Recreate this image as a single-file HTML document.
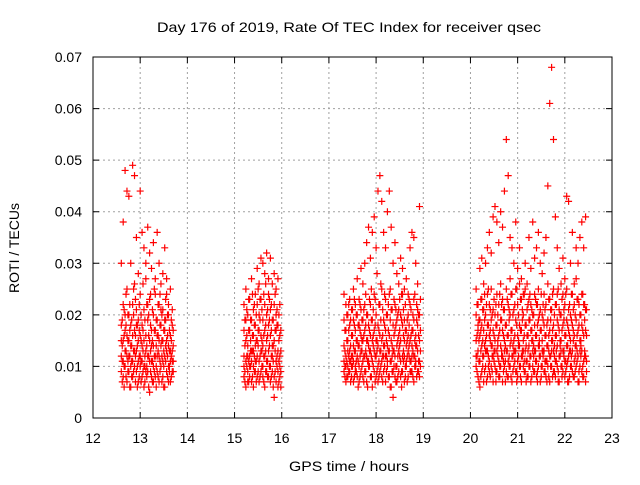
<!DOCTYPE html>
<html><head><meta charset="utf-8"><style>
body{margin:0;background:#fff}
svg text{font-family:"Liberation Sans",sans-serif;font-size:14px;fill:#000}
</style></head><body>
<svg id="chart" width="640" height="480" viewBox="0 0 640 480" xmlns="http://www.w3.org/2000/svg">
<rect width="640" height="480" fill="#fff"/>
<g id="grid"></g>
<g id="axes"></g>
<g id="marks"></g>
<rect x="93" y="57" width="519" height="361" fill="none" stroke="#000" stroke-width="1"/>
<text x="157" y="32" textLength="384" lengthAdjust="spacingAndGlyphs">Day 176 of 2019, Rate Of TEC Index for receiver qsec</text>
<text x="289" y="471" textLength="120" lengthAdjust="spacingAndGlyphs">GPS time / hours</text>
<text transform="translate(19,248) rotate(-90)" text-anchor="middle">ROTI / TECUs</text>
</svg>
<script>
// x ticks (hours), y ticks (TECU)
const xTicks = [12,13,14,15,16,17,18,19,20,21,22,23];
const yTicks = [0,0.01,0.02,0.03,0.04,0.05,0.06,0.07];
const yTickLabels = ["0","0.01","0.02","0.03","0.04","0.05","0.06","0.07"];
// Pass start times (hours), sampling step, and ROTI values per epoch in 1e-3 TECU
const passStarts = [12.60, 15.20, 17.32, 20.12];
const passStep = 0.04;
const pass1Roti = [[12,18,9,30,15],[15,8,22,38,11],[10,20,13,48,17],[7,16,25,44,12],[12,9,20,43,15],[14,6,18,30,10],[11,22,8,49,16],[17,10,26,47,13],[9,13,21,35,18],[15,7,19,28,11],[12,24,10,44,16],[18,8,14,36,11],[10,21,6,33,15],[13,16,27,30,9],[9,19,12,37,22],[15,5,23,32,11],[11,17,8,29,14],[14,20,10,34,7],[8,12,24,27,17],[16,9,19,36,12],[12,22,7,30,15],[10,18,14,26,21],[15,8,21,28,11],[12,17,6,33,19],[9,13,24,27,15],[14,10,20,22,7],[11,16,7,25,13],[13,9,18,21,11]];
const pass2Roti = [[8,12,17,22,10],[11,6,15,19,25],[9,14,20,7,12],[12,17,8,23,10],[7,13,19,11,27],[10,16,6,21,13],[14,9,18,24,11],[8,12,22,15,29],[11,17,7,20,26],[13,9,16,23,31],[10,14,19,8,30],[12,6,17,22,28],[9,15,20,11,32],[13,8,18,24,27],[10,16,7,21,31],[12,9,19,14,26],[8,15,4,22,28],[11,17,7,20,25],[9,13,6,18,27],[12,8,16,10,22]];
const pass3Roti = [[9,14,19,11,24],[12,7,17,22,10],[10,15,8,20,13],[13,9,18,11,23],[8,12,16,21,10],[11,14,7,19,25],[9,13,17,10,22],[12,8,15,20,27],[10,14,18,7,23],[13,9,16,21,29],[11,15,8,19,26],[9,12,17,22,30],[12,7,15,20,34],[10,14,18,11,37],[13,8,16,22,31],[11,15,6,19,36],[9,13,17,24,39],[12,8,20,15,33],[10,14,18,7,44],[13,9,22,16,47],[11,15,8,25,42],[9,12,19,14,36],[12,7,17,23,33],[10,14,20,11,40],[13,8,16,24,44],[11,15,6,21,37],[9,13,4,18,30],[12,8,17,22,34],[10,14,19,7,28],[13,9,16,21,26],[11,15,8,20,31],[9,12,18,24,29],[12,7,15,19,25],[10,14,17,11,27],[13,8,20,16,24],[11,15,9,22,33],[9,12,17,14,36],[12,7,19,23,35],[10,14,16,11,30],[13,9,18,21,26],[11,15,8,20,41]];
const pass4Roti = [[10,15,20,12,25],[13,8,17,22,18],[11,16,6,19,29],[14,9,18,23,31],[12,17,7,21,26],[10,15,20,13,30],[13,8,18,24,33],[11,16,9,22,36],[14,10,19,25,32],[12,7,17,21,39],[10,15,20,13,41],[13,9,18,24,38],[11,16,8,22,34],[14,10,19,26,40],[12,7,17,23,37],[10,15,21,13,44],[13,9,18,25,54],[11,16,8,22,47],[14,10,20,27,35],[12,7,17,24,33],[10,15,21,13,30],[13,9,19,25,38],[11,16,8,22,29],[14,10,18,26,33],[12,7,17,23,27],[10,15,20,13,24],[13,9,18,25,30],[11,16,8,21,26],[14,10,19,23,35],[12,7,17,22,29],[10,15,20,13,38],[13,9,18,24,31],[11,16,8,22,33],[14,10,19,25,36],[12,7,17,21,30],[10,15,20,13,28],[13,9,18,24,32],[11,16,8,22,35],[14,10,19,26,45],[12,7,17,23,61],[10,15,21,13,68],[13,9,18,25,54],[11,16,8,22,39],[14,10,19,24,33],[12,7,17,21,29],[10,15,20,13,26],[13,9,18,24,31],[11,16,8,22,27],[14,10,19,25,43],[12,7,17,21,42],[10,15,20,13,30],[13,9,18,24,36],[11,16,8,22,26],[14,10,19,27,33],[12,7,17,23,30],[10,15,20,13,35],[13,9,18,24,38],[11,16,8,22,33],[12,7,17,21,39]];
// Interleaved epochs (offset by half a step), ROTI in 1e-3 TECU
const pass1RotiB = [[7,14,19,11],[10,16,6,21],[13,8,18,24],[9,15,11,20],[6,12,17,22],[11,19,8,14],[9,13,20,25],[12,7,16,23],[14,10,18,6],[8,12,22,17],[11,15,7,20],[13,9,17,26],[7,12,19,10],[10,14,22,8],[12,6,16,20],[9,13,18,24],[7,11,15,21],[12,9,17,25],[10,14,6,19],[13,8,16,22],[9,11,18,24],[12,7,15,20],[6,10,13,17],[11,14,19,23],[8,12,16,20],[10,13,17,9],[12,8,15,19],[9,11,14,17]];
const pass2RotiB = [[9,14,19,7],[12,16,10,21],[7,11,17,23],[10,13,19,15],[13,8,16,24],[9,12,18,22],[11,15,7,20],[14,9,17,25],[8,12,19,23],[10,15,21,13],[12,7,16,24],[9,13,18,26],[11,16,8,21],[14,10,19,23],[8,12,17,22],[11,14,6,19],[13,9,17,24],[10,12,18,21],[7,11,15,20],[9,13,6,17]];
const pass3RotiB = [[10,13,17,8],[8,11,15,20],[12,9,17,22],[7,14,19,11],[10,12,16,21],[13,8,18,23],[9,11,15,20],[11,14,6,18],[8,12,17,22],[10,15,19,13],[12,7,16,21],[9,13,18,24],[11,6,15,20],[13,10,17,23],[8,12,19,25],[10,14,16,21],[12,7,18,23],[9,13,15,28],[11,8,17,22],[13,10,19,26],[7,12,16,21],[10,14,18,24],[12,9,15,20],[8,13,17,22],[11,6,19,25],[9,12,14,21],[13,10,16,23],[10,7,18,21],[8,12,15,20],[12,14,17,23],[9,6,19,24],[11,13,16,21],[10,8,17,22],[7,12,15,19],[12,14,18,23],[9,11,16,21],[13,8,17,20],[10,12,15,24],[8,14,19,22],[11,9,16,20],[10,13,17,23]];
const pass4RotiB = [[9,12,16,22],[11,15,7,19],[8,13,17,23],[12,10,15,21],[9,14,19,24],[13,7,16,22],[10,12,18,25],[8,15,17,21],[12,9,14,20],[11,13,16,23],[9,7,18,22],[14,12,15,20],[10,8,17,24],[12,13,19,22],[9,11,16,21],[11,14,7,18],[13,8,16,23],[10,12,19,21],[8,15,17,24],[12,9,14,20],[11,13,16,22],[9,7,18,25],[14,12,15,20],[10,8,17,23],[12,13,19,21],[9,11,16,24],[11,14,7,18],[13,8,16,22],[10,12,19,24],[8,15,17,21],[12,9,14,20],[11,13,16,23],[9,7,18,22],[14,12,15,20],[10,8,17,24],[12,13,19,22],[9,11,16,21],[11,14,7,18],[13,8,16,23],[10,12,19,21],[8,15,17,24],[12,9,14,20],[11,13,16,22],[9,7,18,25],[14,12,15,20],[10,8,17,23],[12,13,19,21],[9,11,16,24],[11,14,7,18],[13,8,16,22],[10,12,19,24],[8,15,17,21],[12,9,14,20],[11,13,16,23],[9,7,18,22],[14,12,15,20],[10,8,17,24],[12,13,19,22],[9,11,16,21]];

const NS = "http://www.w3.org/2000/svg";
const X0 = 93, X1 = 612, Y0 = 418, Y1 = 57;
function xScale(h){ return X0 + (h - 12) / 11 * (X1 - X0); }
function yScale(v){ return Y0 - v / 0.07 * (Y0 - Y1); }
function mk(tag, attrs, parent){
  const e = document.createElementNS(NS, tag);
  for (const k in attrs) e.setAttribute(k, attrs[k]);
  parent.appendChild(e); return e;
}
const grid = document.getElementById('grid');
const axes = document.getElementById('axes');
const marks = document.getElementById('marks');

xTicks.forEach(function(t){
  const x = xScale(t);
  if (t > 12 && t < 23) {
    const g = mk('line', {x1:x, x2:x, y1:Y1, y2:Y0, stroke:'#a0a0a0', 'stroke-width':1, 'stroke-dasharray':'2,3'}, grid);
    
    
  }
  const tk = mk('path', {d:'M'+x+' '+Y0+'v-6M'+x+' '+Y1+'v6', stroke:'#000', 'stroke-width':1}, axes);
  
  
  const lb = mk('text', {x:x, y:443, 'text-anchor':'middle'}, axes);
  lb.textContent = String(t);
  
  
});
yTicks.forEach(function(v, i){
  const y = yScale(v);
  if (i > 0 && i < yTicks.length - 1) {
    const g = mk('line', {x1:X0, x2:X1, y1:y, y2:y, stroke:'#a0a0a0', 'stroke-width':1, 'stroke-dasharray':'2,3'}, grid);
    
    
  }
  const tk = mk('path', {d:'M'+X0+' '+y+'h6M'+X1+' '+y+'h-6', stroke:'#000', 'stroke-width':1}, axes);
  
  
  const lb = mk('text', {x:82, y:y + 5, 'text-anchor':'end'}, axes);
  lb.textContent = yTickLabels[i];
  
  
});

function drawPass(pass, start, offset){
  pass.forEach(function(vals, i){
    const t = start + offset + i * passStep;
    vals.forEach(function(m){
      const x = xScale(t), y = yScale(m / 1000);
      const pt = mk('path', {d:'M'+(x-3.5)+' '+y+'h7M'+x+' '+(y-3.5)+'v7', stroke:'#ff0000', 'stroke-width':1.2, fill:'none'}, marks);
      
      
    });
  });
}
const passesA = [pass1Roti, pass2Roti, pass3Roti, pass4Roti];
const passesB = [pass1RotiB, pass2RotiB, pass3RotiB, pass4RotiB];
passesA.forEach(function(p, k){ drawPass(p, passStarts[k], 0); });
passesB.forEach(function(p, k){ drawPass(p, passStarts[k], passStep / 2); });
</script>
</body></html>
